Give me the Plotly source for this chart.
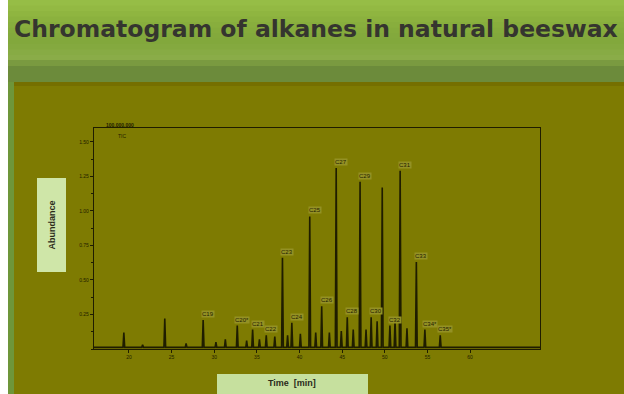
import plotly.graph_objects as go

# ---- data ----
peak_times = [19.4, 21.6, 24.2, 26.7, 28.7, 30.2, 31.3, 32.7, 33.8, 34.5, 35.3, 36.1, 37.1, 38.0,
              38.6, 39.1, 40.1, 41.2, 41.9, 42.6, 43.5, 44.3, 44.9, 45.6, 46.3, 47.1, 47.8, 48.4,
              49.1, 49.7, 50.6, 51.2, 51.8, 52.6, 53.7, 54.7, 56.5]
peak_heights = [0.12, 0.03, 0.22, 0.04, 0.21, 0.05, 0.07, 0.17, 0.06, 0.14, 0.07, 0.10, 0.09, 0.66,
                0.10, 0.19, 0.11, 0.96, 0.12, 0.31, 0.12, 1.31, 0.13, 0.23, 0.14, 1.21, 0.14, 0.23,
                0.20, 1.17, 0.17, 0.21, 1.29, 0.15, 0.63, 0.14, 0.10]
peak_labels = ["", "", "", "", "C19", "", "", "C20*", "", "C21", "", "C22", "", "C23",
               "", "C24", "", "C25", "", "C26", "", "C27", "", "C28", "", "C29", "", "C30",
               "", "", "C32", "", "C31", "", "C33", "C34*", "C35*"]

x_ticks = [20, 25, 30, 35, 40, 45, 50, 55, 60]
y_ticks = [0.25, 0.50, 0.75, 1.00, 1.25, 1.50]
baseline = 0.012

# ---- build chromatogram trace from peak list ----
xs, ys = [15.9], [baseline]
for t, h in zip(peak_times, peak_heights):
    w = 0.1
    xs += [t - w, t, t + w]
    ys += [baseline, h, baseline]
xs.append(68.2)
ys.append(baseline)

OLIVE = "#7e7b02"
INK = "#1f1d00"

fig = go.Figure()
fig.add_trace(go.Scatter(x=xs, y=ys, mode="lines",
                         line=dict(color=INK, width=1.6), hoverinfo="skip",
                         showlegend=False))

# peak labels
for t, h, lab in zip(peak_times, peak_heights, peak_labels):
    if lab:
        fig.add_annotation(x=t, y=h, text=lab, showarrow=False, xshift=5, yshift=6,
                           font=dict(size=6, color=INK, family="Liberation Sans"),
                           bgcolor="#949124", borderpad=0)

shapes = []
def rect(x0, y0, x1, y1, color):
    # pixel coordinates (top-left origin) -> paper
    shapes.append(dict(type="rect", xref="paper", yref="paper",
                       x0=x0 / 624, x1=x1 / 624, y0=1 - y1 / 394, y1=1 - y0 / 394,
                       fillcolor=color, line=dict(width=0), layer="below"))

# header gradient
hdr = ["#96bd46", "#93b943", "#8fb540", "#8bb13e", "#88ae3d", "#85ab3c", "#83a93c", "#82a83c",
       "#84a93f", "#87ab44", "#8aac48"]
for i, c in enumerate(hdr):
    rect(8, i * 5.5, 624, i * 5.5 + 7, c)
rect(8, 60, 624, 67, "#7a9a40")
rect(8, 66, 624, 82, "#6c8b3b")
rect(8, 82, 14, 394, "#6e963a")
rect(14, 82, 624, 394, OLIVE)
rect(14, 82, 624, 86, "#756f00")
# axis title boxes
rect(37, 178, 66, 272, "#cfe6a8")
rect(217, 374, 368, 394, "#c6e09e")
fig.update_layout(shapes=shapes)

def ptext(px, py, text, size, family="Liberation Sans", color=INK, xanchor="center", angle=0):
    fig.add_annotation(x=px / 624, y=1 - py / 394, xref="paper", yref="paper", text=text,
                       xanchor=xanchor, yanchor="middle", textangle=angle, showarrow=False,
                       font=dict(size=size, color=color, family=family))

ptext(51.5, 225, "<b>Abundance</b>", 9, color="#2b2b1a", angle=-90)
ptext(292, 383, "<b>Time  [min]</b>", 9, color="#2b2b1a")
ptext(316, 29, "<b>Chromatogram of alkanes in natural beeswax</b>", 23.5,
      family="DejaVu Sans", color="#35352f")
ptext(104, 125, "<b>100,000,000</b>", 5, xanchor="left")
ptext(116, 136, "TIC", 5, xanchor="left")

fig.update_layout(
    width=624, height=394,
    margin=dict(l=0, r=0, t=0, b=0),
    paper_bgcolor="white",
    plot_bgcolor="rgba(0,0,0,0)",
    xaxis=dict(domain=[94 / 624, 540 / 624], range=[15.9, 68.2], tickvals=x_ticks,
               ticktext=[str(v) for v in x_ticks], showgrid=False, zeroline=False,
               showline=True, linecolor=INK, linewidth=1.2, mirror=True,
               ticks="outside", ticklen=3, tickcolor=INK,
               tickfont=dict(size=5, color=INK, family="Liberation Sans")),
    yaxis=dict(domain=[1 - 349 / 394, 1 - 128 / 394], range=[0, 1.6], tickvals=y_ticks,
               ticktext=[f"{v:.2f}" for v in y_ticks], showgrid=False, zeroline=False,
               showline=True, linecolor=INK, linewidth=1.2, mirror=True,
               ticks="outside", ticklen=3, tickcolor=INK,
               minor=dict(ticks="outside", ticklen=2, tickcolor=INK, dtick=0.125),
               tickfont=dict(size=5, color=INK, family="Liberation Sans")),
)

fig.write_html("out.html", config={"displayModeBar": False},
               post_script="document.body.style.margin='0';document.body.style.padding='0';")
